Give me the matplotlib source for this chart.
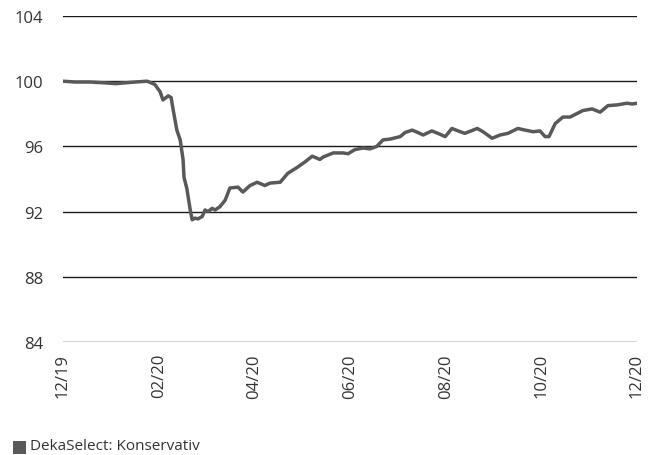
import matplotlib
matplotlib.use("Agg")
import matplotlib.pyplot as plt
from matplotlib.patches import Rectangle

plt.rcParams['font.family'] = ['Open Sans', 'DejaVu Sans']

# months since 12/19
months = [0.0, 0.25, 0.56, 0.88, 1.09, 1.30, 1.51, 1.76, 1.92, 2.03, 2.09, 2.20, 2.26,
          2.30, 2.38, 2.45, 2.51, 2.53, 2.59, 2.66, 2.70, 2.76, 2.82, 2.91, 2.97, 3.03,
          3.12, 3.18, 3.28, 3.39, 3.49, 3.66, 3.76, 3.91, 4.06, 4.22, 4.33, 4.54, 4.70,
          4.89, 5.06, 5.21, 5.37, 5.44, 5.65, 5.85, 5.96, 6.10, 6.27, 6.42, 6.56, 6.69,
          6.84, 7.05, 7.15, 7.30, 7.42, 7.53, 7.71, 7.88, 7.99, 8.13, 8.26, 8.40, 8.66,
          8.78, 8.97, 9.14, 9.30, 9.51, 9.66, 9.83, 9.97, 10.08, 10.16, 10.29, 10.45,
          10.60, 10.87, 11.06, 11.23, 11.39, 11.60, 11.79, 11.90, 12.0]
values = [100.0, 99.95, 99.95, 99.9, 99.85, 99.9, 99.95, 100.0, 99.8, 99.35, 98.85, 99.1, 99.0,
          98.3, 97.0, 96.4, 95.2, 94.1, 93.4, 92.1, 91.5, 91.6, 91.55, 91.7, 92.1, 92.0,
          92.2, 92.1, 92.3, 92.7, 93.45, 93.5, 93.2, 93.6, 93.8, 93.6, 93.75, 93.8, 94.35,
          94.7, 95.05, 95.4, 95.2, 95.35, 95.6, 95.6, 95.55, 95.8, 95.9, 95.85, 96.0, 96.4,
          96.45, 96.6, 96.85, 97.0, 96.85, 96.7, 96.95, 96.75, 96.6, 97.1, 96.95, 96.8, 97.1,
          96.9, 96.5, 96.7, 96.8, 97.1, 97.0, 96.9, 96.95, 96.6, 96.6, 97.4, 97.8,
          97.8, 98.2, 98.3, 98.1, 98.5, 98.55, 98.65, 98.6, 98.65]

x_tick_pos = [0, 2, 4, 6, 8, 10, 12]
x_tick_labels = ['12/19', '02/20', '04/20', '06/20', '08/20', '10/20', '12/20']
y_ticks = [84, 88, 92, 96, 100, 104]
series_name = 'DekaSelect: Konservativ'

line_color = '#595959'
text_color = '#333333'

fig = plt.figure(figsize=(6.54, 4.56), dpi=100)
ax = fig.add_axes([63/654, 1-343/456, (637-63)/654, (343-17)/456])

for y in y_ticks:
    ax.axhline(y, color='#1a1a1a', linewidth=1.0, zorder=1)

ax.plot(months, values, color=line_color, linewidth=2.5, zorder=3,
        solid_joinstyle='round', solid_capstyle='round')

ax.set_xlim(0, 12)
ax.set_ylim(84, 104)
ax.set_yticks(y_ticks)
ax.set_yticklabels([str(v) for v in y_ticks], fontsize=12, color=text_color)
ax.set_xticks(x_tick_pos)
ax.set_xticklabels(x_tick_labels, rotation=90, fontsize=12, color=text_color)
ax.tick_params(axis='y', length=0, pad=14)
ax.tick_params(axis='x', length=0, pad=8)
for s in ax.spines.values():
    s.set_visible(False)

fig.patches.append(Rectangle((13/654, 1-455/456), 13/654, 13/456,
                             transform=fig.transFigure, facecolor=line_color,
                             edgecolor='none'))
fig.text(30/654, 1-450/456, series_name, fontsize=11, color=text_color,
         va='baseline', ha='left')

fig.savefig('out.png', dpi=100)
